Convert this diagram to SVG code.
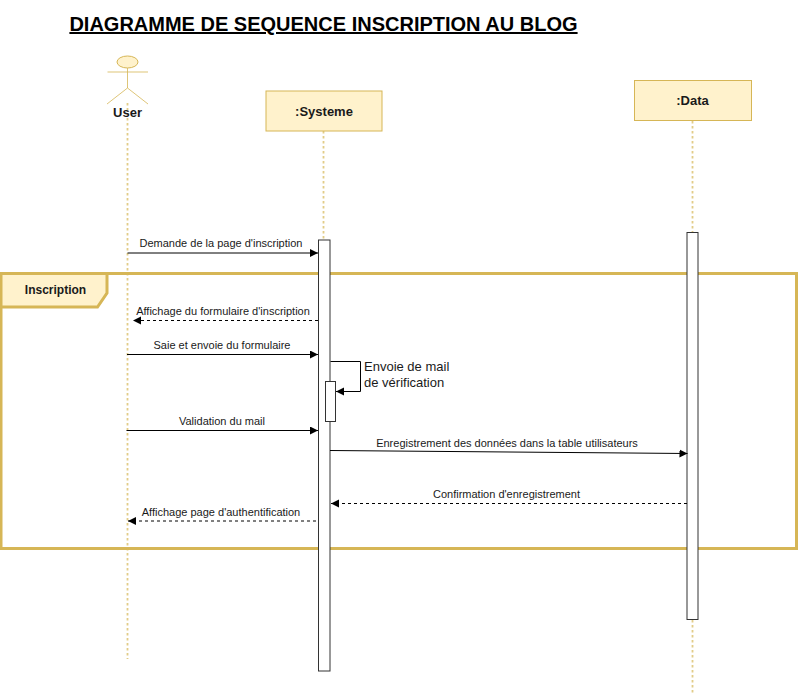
<svg xmlns="http://www.w3.org/2000/svg" width="798" height="695" viewBox="0 0 798 695">
<defs>
<marker id="arr" markerUnits="userSpaceOnUse" markerWidth="10" markerHeight="10" refX="8" refY="4" orient="auto"><path d="M0,0 L8,4 L0,8 Z" fill="#000"/></marker>
</defs>
<style>
text{font-family:"Liberation Sans",Arial,sans-serif;fill:#1a1a1a}
.ll{stroke:#d6b656;stroke-opacity:.7;stroke-dasharray:2.500 2.500;fill:none;stroke-width:1.800}
.box{fill:#fff2cc;stroke:#d6b656;stroke-width:1}
.act{fill:#fff;stroke:#333;stroke-width:1}
.m{font-size:11px;text-anchor:middle}
.n{font-size:13px;font-weight:bold;text-anchor:middle}
.sol{stroke:#000;stroke-width:1;fill:none;marker-end:url(#arr)}
.das{stroke:#000;stroke-width:1;fill:none;stroke-dasharray:3 3;marker-end:url(#arr)}
</style>
<rect width="798" height="695" fill="#fff"/>
<text id="title" x="323.500" y="31" font-size="20" font-weight="bold" text-anchor="middle" text-decoration="underline" style="fill:#000">DIAGRAMME DE SEQUENCE INSCRIPTION AU BLOG</text>
<g id="frame">
<rect x="1" y="273.500" width="795.500" height="275" fill="none" stroke="#d6b656" stroke-width="3"/>
<path d="M1,273.500 H107 V293 L97.500,307 H1 Z" fill="#fff2cc" stroke="#d6b656" stroke-width="3"/>
<text x="55.500" y="294" font-size="12" font-weight="bold" text-anchor="middle">Inscription</text>
</g>
<g id="lifelines">
<path class="ll" d="M127.500,103 V659"/>
<path class="ll" d="M323.500,131 V240"/>
<path class="ll" d="M692.500,121 V232"/>
<path class="ll" d="M692.500,620 V694"/>
</g>
<g id="user">
<ellipse cx="127.500" cy="62" rx="10.500" ry="6" class="box"/>
<path d="M127.500,68 V88 M107.500,72 H148 M107,104 L127.500,88 L148,104" fill="none" stroke="#d6b656" stroke-opacity=".8"/>
<text class="n" x="127.500" y="117">User</text>
</g>
<g id="systeme">
<rect class="box" x="266" y="91" width="116" height="40"/>
<text class="n" x="324" y="116">:Systeme</text>
</g>
<g id="data">
<rect class="box" x="634.500" y="80.500" width="117" height="40"/>
<text class="n" x="692.500" y="105">:Data</text>
</g>
<g id="act-systeme"><rect class="act" x="318.500" y="240" width="11.500" height="431"/></g>
<g id="act-data"><rect class="act" x="687" y="232.500" width="11" height="387"/></g>
<g id="act-self"><rect class="act" x="325.500" y="381.500" width="10" height="40"/></g>
<g id="connectors">
<path class="sol" d="M127.500,253 H318"/>
<path class="das" d="M318,320.500 H133"/>
<path class="sol" d="M127,354.500 H318"/>
<path class="sol" d="M330.500,361.500 H360.500 V391.500 H336"/>
<path class="sol" d="M126.500,430.500 H318"/>
<path class="sol" d="M330,450.500 L687.500,453.500"/>
<path class="das" d="M687,503.500 H331"/>
<path class="das" d="M316,521 H128"/>
</g>
<g id="labels">
<text class="m" x="221" y="247">Demande de la page d'inscription</text>
<text class="m" x="223" y="315">Affichage du formulaire d'inscription</text>
<text class="m" x="222" y="349">Saie et envoie du formulaire</text>
<text x="364" y="371" font-size="13">Envoie de mail</text>
<text x="364" y="387" font-size="13">de vérification</text>
<text class="m" x="222" y="425">Validation du mail</text>
<text class="m" x="507" y="447">Enregistrement des données dans la table utilisateurs</text>
<text class="m" x="506.500" y="498">Confirmation d'enregistrement</text>
<text class="m" x="221" y="516">Affichage page d'authentification</text>
</g>
</svg>
